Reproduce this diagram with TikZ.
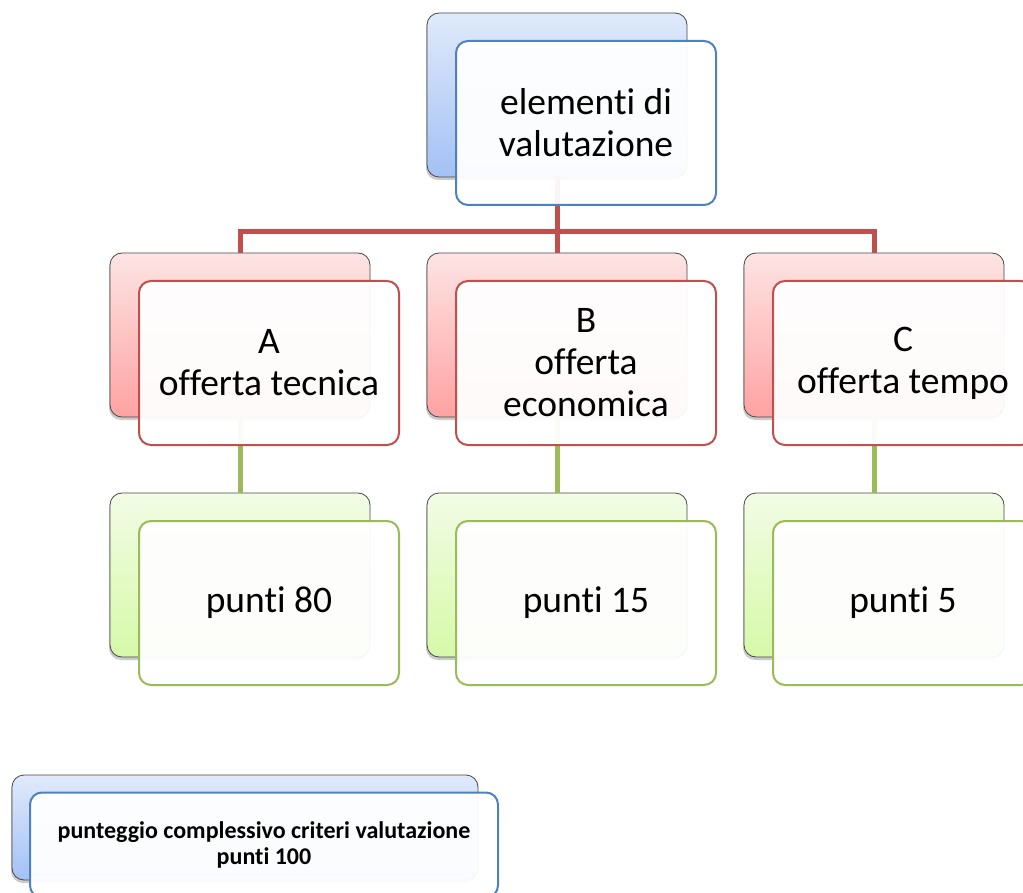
\documentclass[tikz,border=0pt]{standalone}
\usepackage{fontspec}
\setmainfont{Carlito}[Ligatures=NoCommon]
\usetikzlibrary{shadows}
\definecolor{bluetop}{HTML}{E0EAFB}
\definecolor{bluebot}{HTML}{A3C1F5}
\definecolor{redtop}{HTML}{FDE4E4}
\definecolor{redbot}{HTML}{FFA2A2}
\definecolor{greentop}{HTML}{F2FCE6}
\definecolor{greenbot}{HTML}{D6F9A8}
\definecolor{blueline}{HTML}{4F81BD}
\definecolor{redline}{HTML}{C0504D}
\definecolor{greenline}{HTML}{9BBB59}
\tikzset{
  backbox/.style={rectangle, rounded corners=12pt, draw=black!72, line width=0.8pt,
    minimum width=260pt, minimum height=164pt, inner sep=0pt,
    drop shadow={shadow xshift=-1pt, shadow yshift=-3pt, opacity=0.35, fill=black!60}},
  frontbox/.style={rectangle, rounded corners=12pt, line width=2pt, fill=white, fill opacity=0.95,
    text opacity=1, minimum width=260pt, minimum height=164pt, inner sep=0pt, align=center,
    font=\fontsize{37.5}{42}\selectfont},
  bluebk/.style={backbox, top color=bluetop, bottom color=bluebot},
  redbk/.style={backbox, top color=redtop, bottom color=redbot},
  greenbk/.style={backbox, top color=greentop, bottom color=greenbot},
  bluefr/.style={frontbox, draw=blueline},
  redfr/.style={frontbox, draw=redline},
  greenfr/.style={frontbox, draw=greenline},
  redconn/.style={draw=redline, line width=5pt},
  greenconn/.style={draw=greenline, line width=5pt},
}
\begin{document}
\begin{tikzpicture}[x=1pt, y=-1pt]
\useasboundingbox (0,0) rectangle (1023,893);
\clip (0,0) rectangle (1023,893);
\coordinate (bus) at (557,232);
% back boxes
\node[bluebk] (topb) at (557,95) {};
\node[redbk] (Ab) at (240,335) {};
\node[redbk] (Bb) at (557,335) {};
\node[redbk] (Cb) at (874,335) {};
\node[greenbk] (Agb) at (240,575) {};
\node[greenbk] (Bgb) at (557,575) {};
\node[greenbk] (Cgb) at (874,575) {};
\node[bluebk, minimum width=466pt, minimum height=105pt] (totb) at (245,827.5) {};
% connectors
\draw[redconn] (topb.south) -- (bus);
\draw[redconn] (Ab.north) |- (bus) -| (Cb.north);
\draw[redconn] (bus) -- (Bb.north);
\draw[greenconn] (Ab.south) -- (Agb.north);
\draw[greenconn] (Bb.south) -- (Bgb.north);
\draw[greenconn] (Cb.south) -- (Cgb.north);
% front boxes
\node[bluefr] (topf) at (586,123) {elementi di\\valutazione};
\node[redfr] (Af) at (269,363) {A\\offerta tecnica};
\node[redfr] (Bf) at (586,363) {B\\offerta\\economica};
\node[redfr] (Cf) at (903,363) {C\\offerta tempo};
\node[greenfr] (Agf) at (269,603) {punti 80};
\node[greenfr] (Bgf) at (586,603) {punti 15};
\node[greenfr] (Cgf) at (903,603) {punti 5};
\node[bluefr, minimum width=468pt, minimum height=105pt, font=\fontsize{24}{26}\selectfont\bfseries] (totf) at (264,845) {punteggio complessivo criteri valutazione\\punti 100};
\end{tikzpicture}
\end{document}
